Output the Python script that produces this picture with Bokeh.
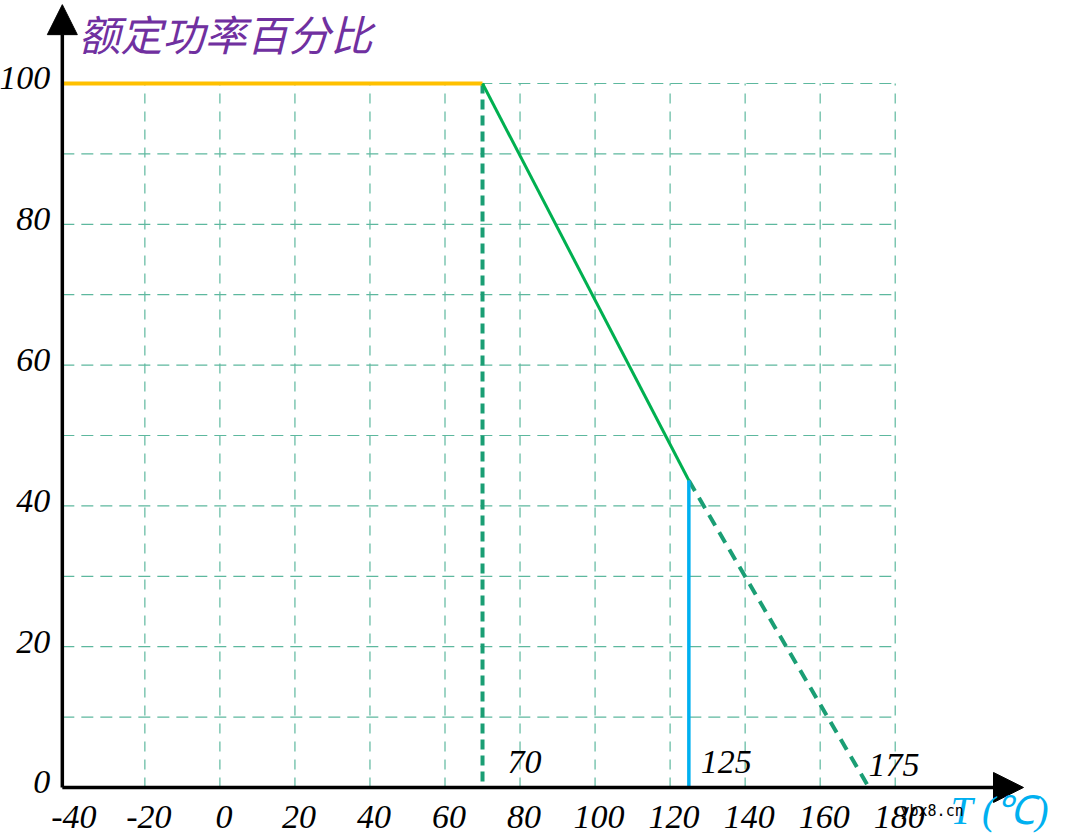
from bokeh.plotting import figure
from bokeh.models import Arrow, NormalHead, Label, Range1d
from bokeh.core.properties import value
from bokeh.embed import file_html
from bokeh.resources import INLINE

# ---- data ----
flat_T = [-42, 70]
flat_P = [100, 100]
derate_T = [70, 125]
derate_P = [100, 43.6]
extrap_T = [125, 173]
extrap_P = [43.6, 0]
knee_T = [70, 70]
knee_P = [100, 0]
max_T = [125, 125]
max_P = [43.6, 0]

x_ticks = [-40, -20, 0, 20, 40, 60, 80, 100, 120, 140, 160, 180]
x_tick_labels = [str(v) for v in x_ticks]
y_ticks = [0, 20, 40, 60, 80, 100]
y_tick_labels = [str(v) for v in y_ticks]
x_grid = [-20, 0, 20, 40, 60, 80, 100, 120, 140, 160, 180]
y_grid = [10, 20, 30, 40, 50, 60, 70, 80, 90, 100]
axis_x0 = -42
grid_x1 = 180
grid_y1 = 100
mark_T = [70, 125, 175]

W, H = 1080, 839
p = figure(width=W, height=H, output_backend="svg", toolbar_location=None,
           tools="", x_axis_type=None, y_axis_type=None, min_border=0,
           x_range=Range1d(-58.48, 229.39), y_range=Range1d(-7.39, 111.79))
p.outline_line_color = None
p.background_fill_color = "white"

num_font = value("Liberation Serif")
grid_col = "#5DB89E"

# grid
p.segment(x0=x_grid, y0=[0] * len(x_grid), x1=x_grid, y1=[grid_y1] * len(x_grid),
          line_color=grid_col, line_width=1.2, line_dash="10 8")
p.segment(x0=[axis_x0] * len(y_grid), y0=y_grid, x1=[grid_x1] * len(y_grid), y1=y_grid,
          line_color=grid_col, line_width=1.2, line_dash="12 7")

# curves
p.line(knee_T, knee_P, line_color="#1A9E74", line_width=4, line_dash="10 6")
p.line(extrap_T, extrap_P, line_color="#1A9E74", line_width=4, line_dash="12 8")
p.line(flat_T, flat_P, line_color="#FFC000", line_width=4)
p.line(derate_T, derate_P, line_color="#00B050", line_width=3)
p.line(max_T, max_P, line_color="#00B0F0", line_width=3.5)

# axes with arrows
p.add_layout(Arrow(end=NormalHead(size=30, fill_color="black", line_color="black"),
                   x_start=axis_x0, y_start=0, x_end=214.2, y_end=0,
                   line_color="black", line_width=3.5))
p.add_layout(Arrow(end=NormalHead(size=30, fill_color="black", line_color="black"),
                   x_start=axis_x0, y_start=0, x_end=axis_x0, y_end=111.2,
                   line_color="black", line_width=3.5))

# tick labels
p.text(x=x_ticks, y=[0] * len(x_ticks), text=x_tick_labels, text_font=num_font,
       text_font_style="italic", text_font_size="34px", text_color="black",
       text_align="center", text_baseline="middle", x_offset=4, y_offset=30)
p.text(x=[axis_x0] * len(y_ticks), y=y_ticks, text=y_tick_labels, text_font=num_font,
       text_font_style="italic", text_font_size="34px", text_color="black",
       text_align="right", text_baseline="middle", x_offset=-12, y_offset=-5)

# marked temperatures
for t, dx, dy in zip(mark_T, [25, 12, -8], [-25, -25, -22]):
    p.text(x=[t], y=[0], text=[str(t)], text_font=num_font, text_font_style="italic",
           text_font_size="34px", text_color="black", text_align="left",
           text_baseline="middle", x_offset=dx, y_offset=dy)

# titles
p.add_layout(Label(x=78, y=807, x_units="screen", y_units="screen",
                   text="额定功率百分比", text_font="Noto Sans CJK SC",
                   text_font_style="italic", text_font_size="42px",
                   text_color="#7030A0", text_baseline="middle", text_align="left"))
p.add_layout(Label(x=950, y=29, x_units="screen", y_units="screen",
                   text="T (℃)", text_font="Liberation Serif", text_font_style="italic",
                   text_font_size="40px", text_color="#00B0F0",
                   text_baseline="middle", text_align="left"))
p.add_layout(Label(x=900, y=29, x_units="screen", y_units="screen",
                   text="ybx8.cn", text_font="DejaVu Sans Mono",
                   text_font_size="15px", text_color="black",
                   text_baseline="middle", text_align="left"))

open("out.html", "w").write(file_html(p, INLINE))
